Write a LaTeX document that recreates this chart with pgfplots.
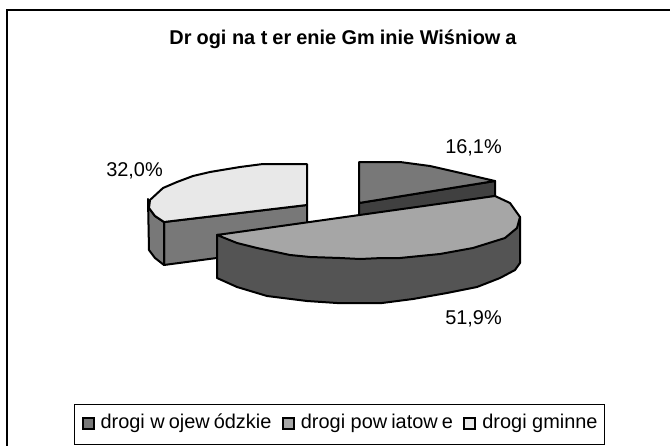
\documentclass[border=0pt]{standalone}
\usepackage{fontspec}
\setmainfont{Liberation Sans}
\usepackage{pgfplots}
\pgfplotsset{compat=1.18}
\definecolor{sliceA}{gray}{0.47}
\definecolor{sliceAside}{gray}{0.25}
\definecolor{sliceB}{gray}{0.65}
\definecolor{sliceBside}{gray}{0.33}
\definecolor{sliceC}{gray}{0.91}
\definecolor{sliceCside}{gray}{0.47}
\newcommand{\lab}{\fontsize{20}{24}\selectfont}
\newcommand{\gap}{\kern4bp }
\newcommand{\tgap}{\kern5bp }
\pgfplotsset{
  face/.style={draw=black,line width=2bp,line join=round,fill=#1},
  swatch/.style={legend image code/.code={
    \draw[fill=#1,draw=black,line width=2bp] (1bp,-4bp) rectangle (12bp,7bp);
    \path[draw=none,fill=none] (0bp,0bp) -- (19bp,0bp);}},
}
\begin{document}
\begin{tikzpicture}
\useasboundingbox (0,0) rectangle (670bp,446bp);
\begin{axis}[
  scale only axis,
  width=670bp,height=446bp,
  xmin=0,xmax=670,ymin=0,ymax=446,
  y dir=reverse,
  hide axis,
  no markers,
  every axis title shift=0pt,
  title={\bfseries\lab Dr\tgap ogi na t\tgap er\tgap enie Gm\tgap inie Wiśniow\tgap a},
  title style={at={(axis cs:343,45)},anchor=base,inner sep=0pt},
  legend columns=3,
  legend cell align=left,
  legend style={at={(axis cs:74,404)},anchor=north west,draw=black,line width=1.2bp,
    font=\lab,inner xsep=7bp,inner ysep=10bp,
    nodes={inner sep=0pt,text height=14bp,text depth=6bp},
    /tikz/every even column/.append style={column sep=10.5bp}},
]
% frame
\addplot[black,line width=2.2bp,forget plot] coordinates {(7,446)(7,10)(670,10)};
% drogi wojewodzkie
\addplot[face=sliceAside,forget plot] coordinates {(359,203)(495,181)(495,196)(359,218)} --cycle;
\addplot[face=sliceA,forget plot] coordinates {
  (359,162)(400,162)(430,166)(465,174)(495,181)(359,203)} --cycle;
% drogi gminne
\addplot[face=sliceCside,forget plot] coordinates {(164,222)(307,205)(307,246)(164,265)} --cycle;
\addplot[face=sliceCside,forget plot] coordinates {(148,199)(149,208)(155,216)(164,222)(164,265)(155,258)(149,250)} --cycle;
\addplot[face=sliceC,forget plot] coordinates {
  (307,164)(263,164)(240,167)(210,172)(193,176)(177,182)(163,188)(150,200)
  (149,208)(155,216)(164,222)(307,205)} --cycle;
% drogi powiatowe
\addplot[face=sliceBside,forget plot] coordinates {
  (217,235)(217,278)(237,287)(267,296)(307,301)(337,303)(382,303)(413,299)
  (447,293)(477,287)(500,278)(515,270)(520,263)(520,217)} --cycle;
\addplot[face=sliceB,forget plot] coordinates {
  (217,235)(495,196)(510,203)(520,217)(517,228)(505,238)(473,248)(440,254)
  (400,258)(382,258)(360,259)(340,258)(310,257)(290,255)(257,248)(237,243)} --cycle;
% legend
\addlegendimage{swatch=sliceA}
\addlegendentry{drogi w\gap ojew\gap ódzkie}
\addlegendimage{swatch=sliceB}
\addlegendentry{drogi pow\gap iatow\gap e}
\addlegendimage{swatch=sliceC}
\addlegendentry{drogi gminne\hspace{4bp}}
% data labels
\node[anchor=base,inner sep=0pt,font=\lab] at (axis cs:473.5,153) {16,1\%};
\node[anchor=base,inner sep=0pt,font=\lab] at (axis cs:134.5,176) {32,0\%};
\node[anchor=base,inner sep=0pt,font=\lab] at (axis cs:473.5,324) {51,9\%};
\end{axis}
\end{tikzpicture}
\end{document}
